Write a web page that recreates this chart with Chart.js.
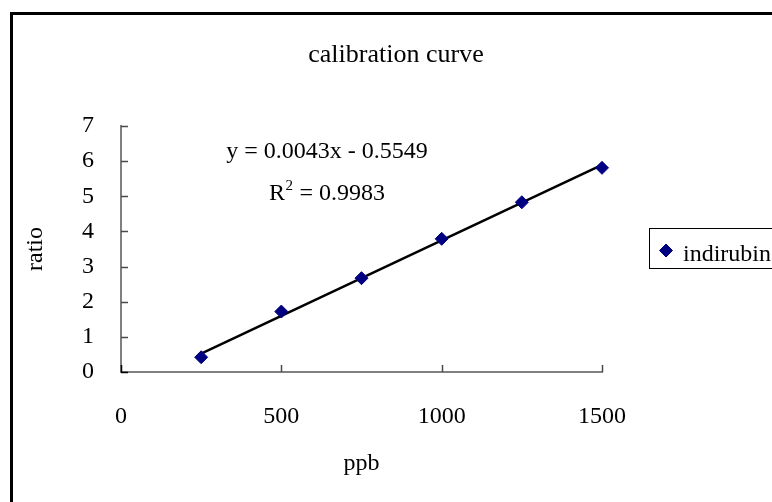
<!DOCTYPE html>
<html>
<head>
<meta charset="utf-8">
<title>calibration curve</title>
<script src="https://cdn.jsdelivr.net/npm/chart.js@4/dist/chart.umd.min.js"></script>
<style>
  html, body { margin: 0; padding: 0; background: #ffffff; }
  #wrap { width: 772px; height: 502px; }
  canvas { display: block; }
</style>
</head>
<body>
<div id="wrap"><canvas id="chart" width="772" height="502"></canvas></div>
<script>
// Standards: concentration (ppb) against measured peak ratio
const concentrations = [250, 500, 750, 1000, 1250, 1500];
const ratios = [0.42, 1.72, 2.67, 3.79, 4.83, 5.81];
const seriesName = 'indirubin';

// Axis ticks
const xTicks = [0, 500, 1000, 1500];
const yTicks = [0, 1, 2, 3, 4, 5, 6, 7];

// Linear least-squares fit shown on the chart
const fitSlope = 0.0043;
const fitIntercept = -0.5549;
const fitR2 = 0.9983;

const chartTitle = 'calibration curve';
const xTitle = 'ppb';
const yTitle = 'ratio';

const FAMILY = '"Liberation Serif", "Times New Roman", serif';
const baseFont = { family: FAMILY, size: 24, weight: 'normal', lineHeight: 1.2 };
const MARKER = '#000080';

const points = concentrations.map((x, i) => ({ x: x, y: ratios[i] }));
const xFitMin = Math.min(...concentrations);
const xFitMax = Math.max(...concentrations);
const fitLine = [xFitMin, xFitMax].map(x => ({ x: x, y: fitSlope * x + fitIntercept }));

// Frame, title, inside tick marks, fit equation and boxed legend
const decorations = {
  id: 'decorations',
  afterDraw(chart) {
    const ctx = chart.ctx;
    const area = chart.chartArea;
    const xs = chart.scales.x;
    const ys = chart.scales.y;
    ctx.save();

    // outer frame (left and top edges)
    ctx.strokeStyle = '#000';
    ctx.lineWidth = 3;
    ctx.beginPath();
    ctx.moveTo(11.5, chart.height + 5);
    ctx.lineTo(11.5, 13.5);
    ctx.lineTo(chart.width + 5, 13.5);
    ctx.stroke();

    // chart title
    ctx.fillStyle = '#000';
    ctx.font = '26px ' + FAMILY;
    ctx.textAlign = 'center';
    ctx.textBaseline = 'alphabetic';
    ctx.fillText(chartTitle, 396, 62);

    // tick marks pointing into the plot
    const tickLen = 7;
    ctx.lineWidth = 1.5;
    xTicks.forEach(v => {
      const px = Math.round(xs.getPixelForValue(v)) + 0.5;
      ctx.strokeStyle = v === 0 ? '#000' : '#4a4a4a';
      ctx.beginPath();
      ctx.moveTo(px, area.bottom);
      ctx.lineTo(px, area.bottom - tickLen);
      ctx.stroke();
    });
    yTicks.forEach(v => {
      const py = Math.round(ys.getPixelForValue(v)) + 0.5;
      ctx.strokeStyle = v === 0 ? '#000' : '#4a4a4a';
      ctx.beginPath();
      ctx.moveTo(area.left, py);
      ctx.lineTo(area.left + tickLen, py);
      ctx.stroke();
    });

    // fit equation and coefficient of determination
    const cx = area.left + 206;
    const sign = fitIntercept < 0 ? '-' : '+';
    const eq = 'y = ' + fitSlope + 'x ' + sign + ' ' + Math.abs(fitIntercept);
    ctx.font = '24px ' + FAMILY;
    ctx.textAlign = 'center';
    ctx.fillText(eq, cx, area.top + 32);

    const rPart = 'R';
    const supPart = '2';
    const restPart = ' = ' + fitR2;
    ctx.font = '24px ' + FAMILY;
    const wR = ctx.measureText(rPart).width;
    const wRest = ctx.measureText(restPart).width;
    ctx.font = '15px ' + FAMILY;
    const wSup = ctx.measureText(supPart).width + 1;
    const total = wR + wSup + wRest;
    let sx = cx - total / 2;
    const rBase = area.top + 74;
    ctx.textAlign = 'left';
    ctx.font = '24px ' + FAMILY;
    ctx.fillText(rPart, sx, rBase);
    sx += wR;
    ctx.font = '15px ' + FAMILY;
    ctx.fillText(supPart, sx + 0.5, rBase - 10);
    sx += wSup;
    ctx.font = '24px ' + FAMILY;
    ctx.fillText(restPart, sx, rBase);

    // legend box
    ctx.strokeStyle = '#000';
    ctx.lineWidth = 1;
    ctx.strokeRect(649.5, 228.5, 140, 40);
    ctx.fillStyle = MARKER;
    ctx.strokeStyle = MARKER;
    ctx.beginPath();
    ctx.moveTo(666, 244); ctx.lineTo(672.5, 250.5); ctx.lineTo(666, 257); ctx.lineTo(659.5, 250.5);
    ctx.closePath();
    ctx.fill();
    ctx.stroke();
    ctx.fillStyle = '#000';
    ctx.font = '24px ' + FAMILY;
    ctx.textAlign = 'left';
    ctx.textBaseline = 'alphabetic';
    ctx.fillText(chart.data.datasets[1].label, 683, 261);

    ctx.restore();
  }
};

new Chart(document.getElementById('chart'), {
  data: {
    datasets: [
      {
        type: 'line',
        label: 'Linear fit',
        data: fitLine,
        borderColor: '#000000',
        borderWidth: 2.5,
        pointRadius: 0,
        fill: false,
        tension: 0,
        clip: false,
        order: 2
      },
      {
        type: 'scatter',
        label: seriesName,
        data: points,
        pointStyle: 'rectRot',
        pointRadius: 6.5,
        pointHoverRadius: 6.5,
        backgroundColor: MARKER,
        borderColor: MARKER,
        borderWidth: 1,
        clip: false,
        order: 1
      }
    ]
  },
  options: {
    responsive: false,
    animation: false,
    devicePixelRatio: 1,
    layout: { padding: { left: 0, right: 170, top: 126, bottom: 0 } },
    plugins: {
      legend: { display: false },
      title: { display: false },
      tooltip: { enabled: false }
    },
    scales: {
      x: {
        type: 'linear',
        min: 0,
        max: 1500,
        afterBuildTicks: s => { s.ticks = xTicks.map(v => ({ value: v })); },
        afterFit: s => { s.height = 130; },
        grid: { display: false, drawTicks: false },
        border: { display: true, color: '#808080', width: 2 },
        ticks: { font: baseFont, color: '#000', padding: 30, maxRotation: 0, autoSkip: false,
                 callback: v => String(v) },
        title: { display: true, text: xTitle, font: baseFont, color: '#000', padding: { top: 0, bottom: 24 } }
      },
      y: {
        type: 'linear',
        min: 0,
        max: 7,
        afterBuildTicks: s => { s.ticks = yTicks.map(v => ({ value: v })); },
        afterFit: s => { s.width = 121; },
        grid: { display: false, drawTicks: false },
        border: { display: true, color: '#808080', width: 2 },
        ticks: { font: baseFont, color: '#000', padding: 27, autoSkip: false,
                 callback: v => String(v) },
        title: { display: true, text: yTitle, font: baseFont, color: '#000', padding: { top: 21, bottom: 0 } }
      }
    }
  },
  plugins: [decorations]
});
</script>
</body>
</html>
